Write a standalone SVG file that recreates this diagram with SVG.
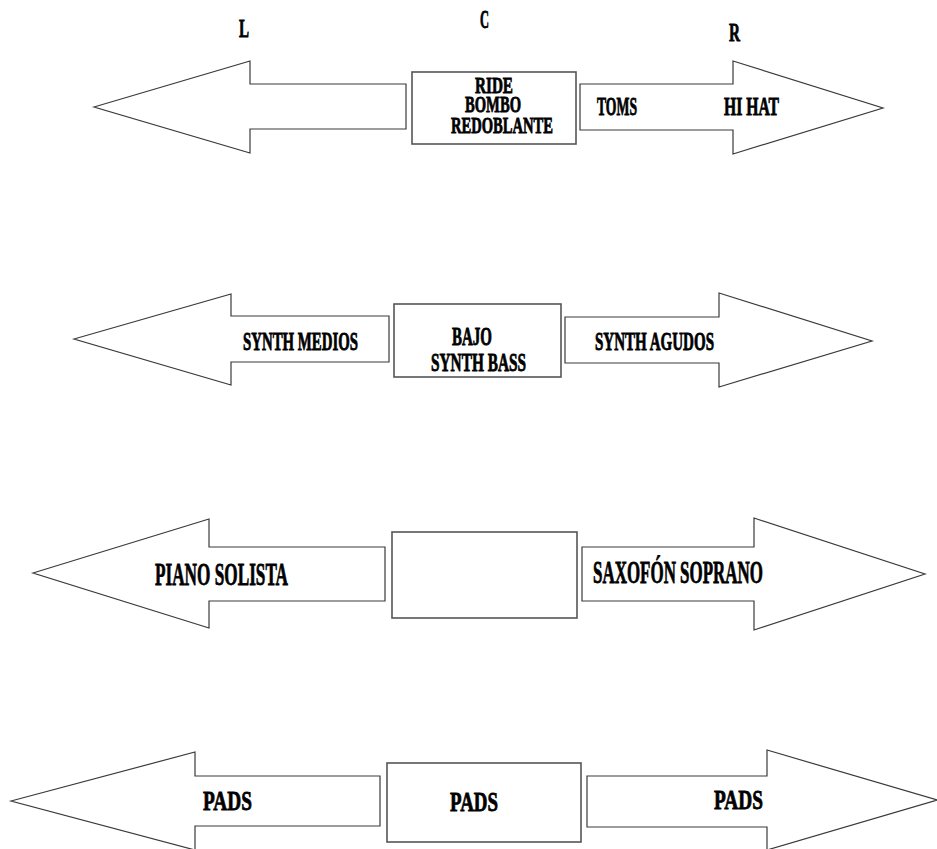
<svg xmlns="http://www.w3.org/2000/svg" width="937" height="849" viewBox="0 0 937 849">
<style>
.bg{fill:#ffffff}
.arr{fill:#ffffff;stroke:#3a3a3a;stroke-width:1.2}
.box{fill:#ffffff;stroke:#555555;stroke-width:1.6}
text{font-family:"Liberation Serif","DejaVu Serif",serif;font-weight:bold;fill:#000000;stroke:#000000;stroke-width:0.8}
.t{font-size:23px}
.s{font-size:25px}
.m{font-size:28px}
.l{font-size:32px}
</style>
<rect class="bg" x="0" y="0" width="937" height="849"/>
<g id="channel-labels">
<text class="s" x="239" y="37" textLength="10" lengthAdjust="spacingAndGlyphs">L</text>
<text class="s" x="480" y="28" textLength="9" lengthAdjust="spacingAndGlyphs">C</text>
<text class="s" x="729" y="41" textLength="11" lengthAdjust="spacingAndGlyphs">R</text>
</g>
<g id="connectors"></g>
<g id="row1">
<g id="r1-left"><polygon class="arr" points="94,107 250,61 250,84 406,84 406,129 250,129 250,153"/></g>
<g id="r1-center"><rect class="box" x="412" y="72" width="164" height="72"/>
<text class="t"><tspan x="475" y="93" textLength="38" lengthAdjust="spacingAndGlyphs">RIDE</tspan><tspan x="465" y="112" textLength="56" lengthAdjust="spacingAndGlyphs">BOMBO</tspan><tspan x="451" y="133" textLength="102" lengthAdjust="spacingAndGlyphs">REDOBLANTE</tspan></text></g>
<g id="r1-right"><polygon class="arr" points="580,84 733,84 733,61 883,108 733,154 733,130 580,130"/>
<text class="s" x="597" y="115" textLength="40" lengthAdjust="spacingAndGlyphs">TOMS</text>
<text class="s" x="724" y="115" textLength="55" lengthAdjust="spacingAndGlyphs">HI HAT</text></g>
</g>
<g id="row2">
<g id="r2-left"><polygon class="arr" points="74,339 231,294 231,316 389,316 389,362 231,362 231,385"/>
<text class="s" x="243" y="350" textLength="115" lengthAdjust="spacingAndGlyphs">SYNTH MEDIOS</text></g>
<g id="r2-center"><rect class="box" x="394" y="304" width="167" height="73"/>
<text class="s"><tspan x="452" y="345" textLength="40" lengthAdjust="spacingAndGlyphs">BAJO</tspan><tspan x="431" y="371" textLength="95" lengthAdjust="spacingAndGlyphs">SYNTH BASS</tspan></text></g>
<g id="r2-right"><polygon class="arr" points="565,317 719,317 719,293 872,341 719,387 719,363 565,363"/>
<text class="s" x="595" y="350" textLength="119" lengthAdjust="spacingAndGlyphs">SYNTH AGUDOS</text></g>
</g>
<g id="row3">
<g id="r3-left"><polygon class="arr" points="33,573 209,519 209,547 385,547 385,601 209,601 209,628"/>
<text class="l" x="155" y="585" textLength="133" lengthAdjust="spacingAndGlyphs">PIANO SOLISTA</text></g>
<g id="r3-center"><rect class="box" x="392" y="532" width="185" height="86"/></g>
<g id="r3-right"><polygon class="arr" points="582,547 754,547 754,518 925,574 754,630 754,601 582,601"/>
<text class="l" x="593" y="583" textLength="170" lengthAdjust="spacingAndGlyphs">SAXOFÓN SOPRANO</text></g>
</g>
<g id="row4">
<g id="r4-left"><polygon class="arr" points="11,801 195,752 195,776 380,776 380,826 195,826 195,850"/>
<text class="m" x="203" y="810" textLength="49" lengthAdjust="spacingAndGlyphs">PADS</text></g>
<g id="r4-center"><rect class="box" x="387" y="763" width="194" height="79"/>
<text class="m" x="450" y="811" textLength="48" lengthAdjust="spacingAndGlyphs">PADS</text></g>
<g id="r4-right"><polygon class="arr" points="587,776 767,776 767,750 937,800 767,850 767,827 587,827"/>
<text class="m" x="714" y="809" textLength="49" lengthAdjust="spacingAndGlyphs">PADS</text></g>
</g>
</svg>
